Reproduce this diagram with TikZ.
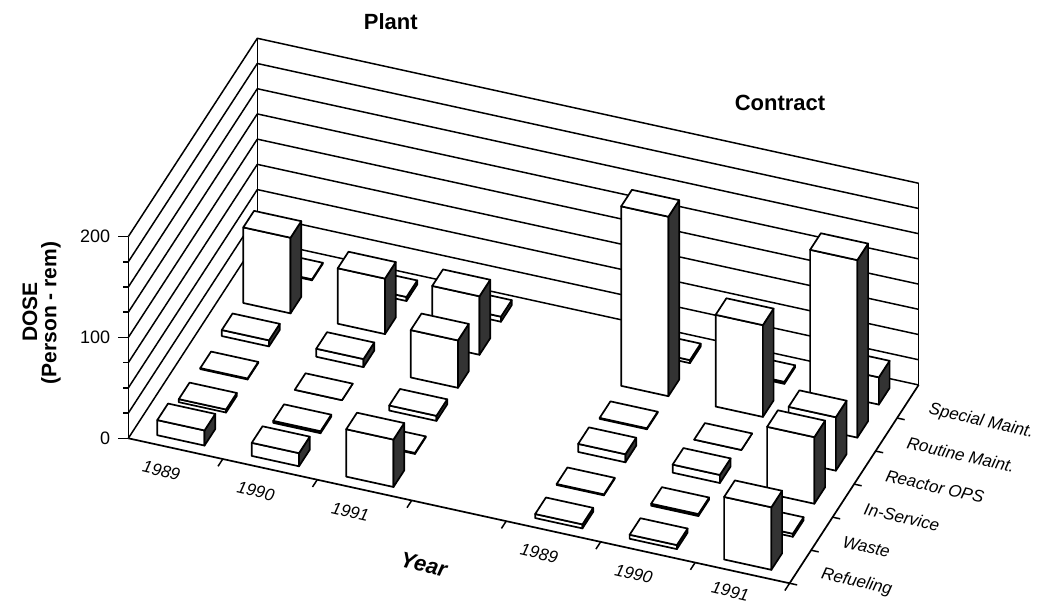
\documentclass[tikz,border=0pt]{standalone}
\usepackage{fontspec}
\setmainfont{Liberation Sans}
\usetikzlibrary{calc}
\tikzset{
 chart/.style={x={(94.47pt,-20.71pt)},
   y={(21.5pt,33.05pt)},
   z={(0pt,1.0085pt)},
   line width=1.7pt,
   line join=round},
 grid line/.style={line width=1.5pt},
 bar front/.style={draw,fill=white},
 bar side/.style={draw,fill=black!80},
 axis tick/.style={line width=1.5pt},
 year label/.style={font=\fontsize{17}{17}\selectfont\itshape,rotate=-13},
 task label/.style={font=\fontsize{17}{17}\selectfont\itshape,rotate=-13,anchor=west},
 value label/.style={font=\fontsize{18}{18}\selectfont,anchor=east,xshift=-4pt},
 chart title/.style={font=\fontsize{22}{22}\selectfont\bfseries}
 }
% one block: slot, row, dose
\newcommand{\doseblock}[3]{%
  \filldraw[bar front] (#1+0.25,#2+0.25,0) -- (#1+0.75,#2+0.25,0) -- (#1+0.75,#2+0.25,#3) -- (#1+0.25,#2+0.25,#3) -- cycle;
  \filldraw[bar side] (#1+0.75,#2+0.25,0) -- (#1+0.75,#2+0.75,0) -- (#1+0.75,#2+0.75,#3) -- (#1+0.75,#2+0.25,#3) -- cycle;
  \filldraw[bar front] (#1+0.25,#2+0.25,#3) -- (#1+0.75,#2+0.25,#3) -- (#1+0.75,#2+0.75,#3) -- (#1+0.25,#2+0.75,#3) -- cycle;
}

\begin{document}
\begin{tikzpicture}
  \useasboundingbox (0,0) rectangle (1047pt,602pt);
  \node[chart title] (plant) at (390.8pt,580.3pt) {Plant};
  \node[chart title] (contract) at (780pt,499pt) {Contract};
  \node[rotate=90,font=\fontsize{21}{21}\selectfont\bfseries] (dose) at (30pt,290pt) {DOSE};
  \node[rotate=90,font=\fontsize{21}{21}\selectfont\bfseries] (unit) at (51pt,289pt) {(Person - rem)};
  \begin{scope}[shift={(128.3pt,163.7pt)},chart]
    % walls
    \foreach \h in {0,25,...,200}
      \draw[grid line] (0,0,\h) -- (0,6,\h) -- (7,6,\h);
    \draw[grid line] (0,0,0) -- (0,0,200);
    \draw[grid line] (0,6,0) -- (0,6,200);
    \draw[grid line] (7,6,0) -- (7,6,200);
    \draw (0,0,0) -- (7,0,0) -- (7,6,0);
    % ticks
    \foreach \h in {25,50,75,125,150,175}
      \draw[axis tick] (0,0,\h) -- ++(-5pt,0pt);
    \foreach \h in {0,100,200}
      \draw[axis tick] (0,0,\h) -- ++(-10pt,0pt) node[value label] {\h};
    \foreach \k in {1,...,7}
      \draw[axis tick] (\k,0,0) -- (\k,-0.22,0);
    \foreach \k in {0,...,5}
      \draw[axis tick] (7,\k,0) -- (7.08,\k,0);
    % Special Maint.
    \doseblock{0}{5}{1}
    \doseblock{1}{5}{4}
    \doseblock{2}{5}{5}
    \doseblock{4}{5}{3}
    \doseblock{5}{5}{2}
    \doseblock{6}{5}{27}
    % Routine Maint.
    \doseblock{0}{4}{75}
    \doseblock{1}{4}{55}
    \doseblock{2}{4}{58}
    \doseblock{4}{4}{178}
    \doseblock{5}{4}{91}
    \doseblock{6}{4}{176}
    % Reactor OPS
    \doseblock{0}{3}{6}
    \doseblock{1}{3}{8}
    \doseblock{2}{3}{47}
    \doseblock{4}{3}{1}
    \doseblock{5}{3}{0}
    \doseblock{6}{3}{53}
    % In-Service
    \doseblock{0}{2}{1}
    \doseblock{1}{2}{0}
    \doseblock{2}{2}{5}
    \doseblock{4}{2}{8}
    \doseblock{5}{2}{8}
    \doseblock{6}{2}{66}
    % Waste
    \doseblock{0}{1}{3}
    \doseblock{1}{1}{2}
    \doseblock{2}{1}{1}
    \doseblock{4}{1}{1}
    \doseblock{5}{1}{2}
    \doseblock{6}{1}{3}
    % Refueling
    \doseblock{0}{0}{15}
    \doseblock{1}{0}{13}
    \doseblock{2}{0}{47}
    \doseblock{4}{0}{4}
    \doseblock{5}{0}{4}
    \doseblock{6}{0}{62}
    % labels
    \node[year label] (p89) at (0.5,-0.66,0) {1989};
    \node[year label] (p90) at (1.5,-0.66,0) {1990};
    \node[year label] (p91) at (2.5,-0.66,0) {1991};
    \node[year label] (c89) at (4.5,-0.66,0) {1989};
    \node[year label] (c90) at (5.5,-0.66,0) {1990};
    \node[year label] (c91) at (6.5,-0.56,0) {1991};
    \node[rotate=-13,font=\fontsize{22}{22}\selectfont\bfseries\itshape] (year) at (3.5,-1.63,0) {Year};
    \node[task label] (refueling) at (7.2,0.42,0) {Refueling};
    \node[task label] (waste) at (7.2,1.42,0) {Waste};
    \node[task label] (inservice) at (7.2,2.42,0) {In-Service};
    \node[task label] (reactor) at (7.2,3.42,0) {Reactor OPS};
    \node[task label] (routine) at (7.2,4.42,0) {Routine Maint.};
    \node[task label] (special) at (7.2,5.42,0) {Special Maint.};
  \end{scope}
\end{tikzpicture}
\end{document}
